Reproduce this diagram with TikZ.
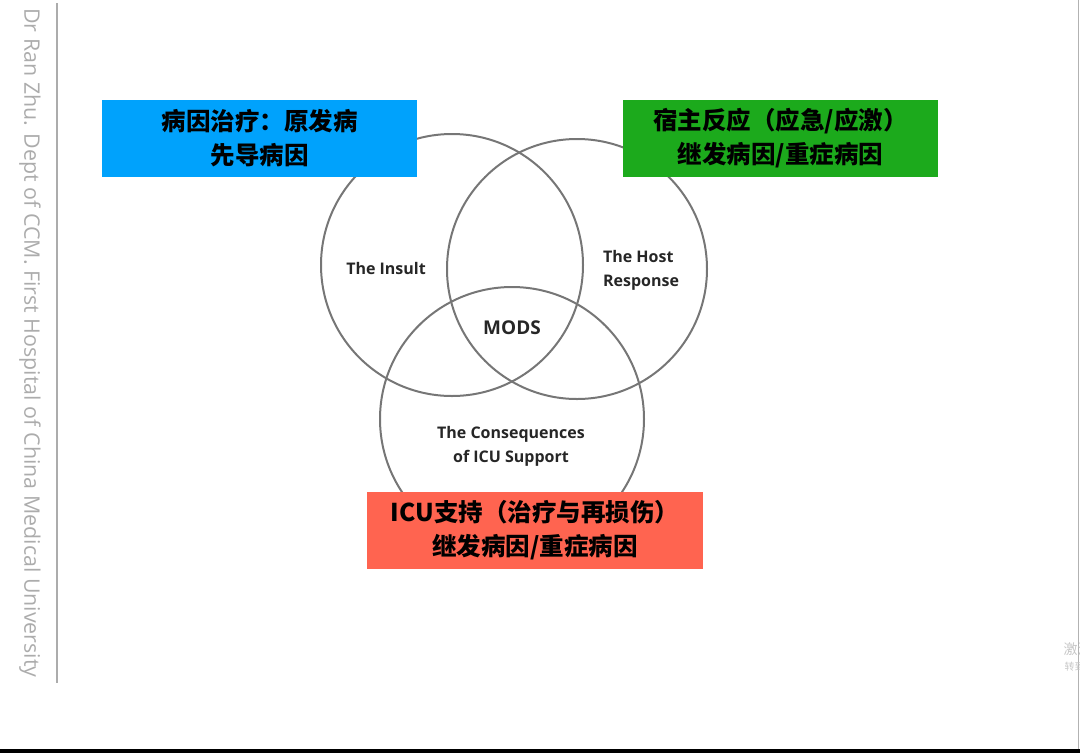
\documentclass[tikz,border=0pt]{standalone}
\usepackage{fontspec}
\setmainfont{Open Sans}
\newfontfamily\cjkfont{Noto Sans CJK SC}
\usetikzlibrary{positioning}
\definecolor{insultcol}{RGB}{0,162,252}
\definecolor{hostcol}{RGB}{28,170,28}
\definecolor{icucol}{RGB}{255,100,80}
\definecolor{ringcol}{RGB}{118,118,118}
\definecolor{notecol}{RGB}{172,172,172}

\begin{document}
\begin{tikzpicture}[
  x=1pt, y=-1pt,
  ring/.style={circle, draw=ringcol, line width=2pt, inner sep=0pt},
  ringLabel/.style={font=\fontsize{16}{24}\selectfont\bfseries, text=black!85, align=center},
  causebox/.style={inner sep=0pt, minimum height=77pt, align=center,
                   font=\cjkfont\bfseries\fontsize{24.5}{34}\selectfont, text=black},
]
\useasboundingbox (0,0) rectangle (1080,753);

% --- Side credit and frame ---
\node[rotate=-90, text=notecol, font=\fontsize{21.4}{24}\selectfont] (credit) at (30,343)
  {Dr Ran Zhu. Dept of CCM. First Hospital of China Medical University};
\draw[notecol, line width=1.5pt] (57,3) -- (57,683);
\draw[gray!60, line width=1pt] (1078.5,0) -- (1078.5,749);
\fill[black] (0,749) rectangle (1080,753);

% --- Venn rings ---
\node[ring, minimum size=262pt] (insult) at (452,265) {};
\node[ring, minimum size=260pt] (host) at (577,269) {};
\node[ring, minimum size=264pt] (icu) at (512,419) {};

% --- Ring labels ---
\node[ringLabel] (insultT) at (386,268) {The Insult};
\node[ringLabel, align=left] (hostT) at (641,270) {The Host\\Response};
\node[ringLabel, font=\fontsize{19}{24}\selectfont\bfseries] (mods) at (512,328) {MODS};
\node[ringLabel] (icuT) at (511,446) {The Consequences\\of ICU Support};

% --- Cause boxes ---
\node[causebox, fill=insultcol, minimum width=315pt] (insultBox) at (259.5,138.5)
  {病因治疗：原发病\\先导病因};
\node[causebox, fill=hostcol, minimum width=315pt] (hostBox) at (780.5,138.5)
  {宿主反应（应急/应激）\\继发病因/重症病因};
\node[causebox, fill=icucol, minimum width=336pt] (icuBox) at (535,530.5)
  {ICU支持（治疗与再损伤）\\继发病因/重症病因};

% --- Cropped watermark at right edge ---
\node[anchor=west, text=gray!45, font=\cjkfont\fontsize{14}{16}\selectfont] (wm1) at (1060,649) {激活};
\node[anchor=west, text=gray!45, font=\cjkfont\fontsize{10}{12}\selectfont] (wm2) at (1061,667) {转到};
\end{tikzpicture}
\end{document}
